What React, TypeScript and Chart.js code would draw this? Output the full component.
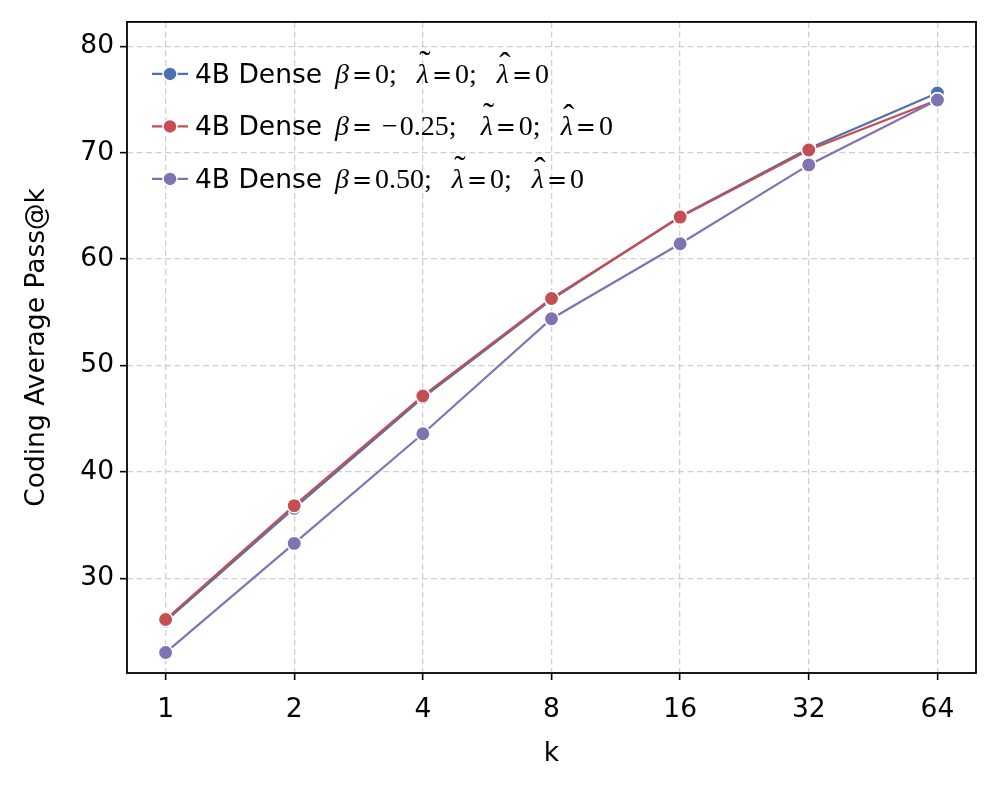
import React, { useEffect, useRef } from "react";
import { Chart, registerables } from "chart.js";

Chart.register(...registerables);

const kLabels = ["1", "2", "4", "8", "16", "32", "64"];
const yTickValues = [30, 40, 50, 60, 70, 80];

const seriesNames = ["4B Dense", "4B Dense", "4B Dense"];
const betaValues = ["0", "\u22120.25", "0.50"];
const seriesColors = ["#4C72B0", "#C44E52", "#8172B3"];

const blueValues = [26.0, 36.6, 47.0, 56.2, 64.0, 70.4, 75.6];
const redValues = [26.15, 36.85, 47.15, 56.3, 63.95, 70.25, 74.95];
const purpleValues = [23.05, 33.3, 43.6, 54.4, 61.45, 68.85, 74.95];

const seriesValues = [blueValues, redValues, purpleValues];

const FS = 26.5;
const SANS = `${FS}px "DejaVu Sans"`;

function drawMath(ctx: CanvasRenderingContext2D, x: number, yBase: number, beta: string) {
  const MF = 28;
  const up = `${MF}px "Liberation Serif"`;
  const it = `italic ${MF}px "Liberation Serif"`;
  const eq = `24px "DejaVu Serif"`;
  const acc = `34px "Liberation Serif"`;
  let cx = x;
  const put = (s: string, font: string) => {
    ctx.font = font;
    ctx.fillText(s, cx, yBase);
    const w = ctx.measureText(s).width;
    cx += w;
    return w;
  };
  const accent = (a: string, w0: number, x0: number, raise: number) => {
    ctx.font = acc;
    const aw = ctx.measureText(a).width;
    ctx.fillText(a, x0 + w0 / 2 - aw / 2 + 2, yBase - raise);
  };
  const g = 3;
  const G = 20;
  const neg = beta.startsWith("\u2212");
  put("\u03B2", it);
  cx += g;
  put("=", eq);
  if (neg) {
    cx += 10;
    put("\u2212", up);
    cx += 2;
    put(beta.slice(1), up);
  } else {
    cx += g;
    put(beta, up);
  }
  put(";", up);
  cx += neg ? G + 4 : G;
  let x0 = cx;
  let w = put("\u03BB", it);
  accent("\u02DC", w, x0, 9);
  cx += g;
  put("=", eq);
  cx += g;
  put("0", up);
  put(";", up);
  cx += G;
  x0 = cx;
  w = put("\u03BB", it);
  accent("\u02C6", w, x0, 7);
  cx += g;
  put("=", eq);
  cx += g;
  put("0", up);
}

const framePlugin = {
  id: "frameAndLegend",
  afterDraw(chart: any) {
    const ctx: CanvasRenderingContext2D = chart.ctx;
    const { left, top, right, bottom } = chart.chartArea;
    ctx.save();
    ctx.strokeStyle = "#000";
    ctx.lineWidth = 1.8;
    ctx.setLineDash([]);
    ctx.strokeRect(left, top, right - left, bottom - top);

    const rowYs = [top + 52, top + 104.5, top + 157];
    seriesNames.forEach((name, i) => {
      const y = rowYs[i];
      const color = seriesColors[i];
      ctx.strokeStyle = color;
      ctx.lineWidth = 2.2;
      ctx.beginPath();
      ctx.moveTo(left + 25, y);
      ctx.lineTo(left + 61, y);
      ctx.stroke();
      ctx.beginPath();
      ctx.arc(left + 43, y, 7, 0, Math.PI * 2);
      ctx.fillStyle = color;
      ctx.fill();
      ctx.strokeStyle = "#fff";
      ctx.lineWidth = 1.5;
      ctx.stroke();

      ctx.fillStyle = "#000";
      ctx.textAlign = "left";
      ctx.textBaseline = "alphabetic";
      ctx.font = SANS;
      const tx = left + 68;
      const base = y + 8.8;
      ctx.fillText(name, tx, base);
      drawMath(ctx, left + 208, base, betaValues[i]);
    });
    ctx.restore();
  },
};

export default function App() {
  const ref = useRef<HTMLCanvasElement | null>(null);

  useEffect(() => {
    if (!ref.current) return;
    const datasets = seriesValues.map((vals, i) => ({
      label: `${seriesNames[i]} beta=${betaValues[i]}`,
      data: vals.map((v, j) => ({ x: j, y: v })),
      borderColor: seriesColors[i],
      backgroundColor: seriesColors[i],
      pointBackgroundColor: seriesColors[i],
      pointBorderColor: "#ffffff",
      pointBorderWidth: 1.5,
      pointRadius: 7.2,
      borderWidth: 2.2,
      tension: 0,
      order: 3 - i,
    }));

    const gridOpts = {
      color: "rgba(200,200,200,0.85)",
      lineWidth: 1.3,
      tickColor: "#000",
      tickWidth: 1.6,
      tickLength: 7,
      tickBorderDash: [],
    };

    const chart = new Chart(ref.current, {
      type: "line",
      data: { datasets },
      options: {
        animation: false,
        responsive: false,
        devicePixelRatio: 1,
        layout: { padding: { left: 0, right: 22, top: 20, bottom: 0 } },
        plugins: { legend: { display: false }, tooltip: { enabled: false } },
        scales: {
          x: {
            type: "linear",
            min: -0.3,
            max: 6.3,
            afterBuildTicks: (scale: any) => {
              scale.ticks = kLabels.map((_, i) => ({ value: i }));
            },
            afterFit: (scale: any) => {
              scale.height = 119;
            },
            ticks: {
              callback: (v: any) => kLabels[Number(v)] ?? "",
              color: "#000",
              font: { family: "DejaVu Sans", size: FS },
              padding: 14,
              maxRotation: 0,
              autoSkip: false,
            },
            grid: gridOpts,
            border: { display: false, dash: [6, 3.5] },
            title: {
              display: true,
              text: "k",
              color: "#000",
              font: { family: "DejaVu Sans", size: FS },
              padding: { top: 0, bottom: 22 },
            },
          },
          y: {
            type: "linear",
            min: 21.13,
            max: 82.28,
            afterBuildTicks: (scale: any) => {
              scale.ticks = yTickValues.map((v) => ({ value: v }));
            },
            afterFit: (scale: any) => {
              scale.width = 127;
            },
            ticks: {
              color: "#000",
              font: { family: "DejaVu Sans", size: FS },
              padding: 6,
            },
            grid: gridOpts,
            border: { display: false, dash: [6, 3.5] },
            title: {
              display: true,
              text: "Coding Average Pass@k",
              color: "#000",
              font: { family: "DejaVu Sans", size: FS },
              padding: { top: 21, bottom: 0 },
            },
          },
        },
      },
      plugins: [framePlugin],
    });
    return () => chart.destroy();
  }, []);

  return (
    <div style={{ position: "absolute", left: 0, top: 0, width: 998, height: 792, background: "#fff" }}>
      <canvas ref={ref} width={998} height={792} style={{ width: 998, height: 792, display: "block" }} />
    </div>
  );
}
